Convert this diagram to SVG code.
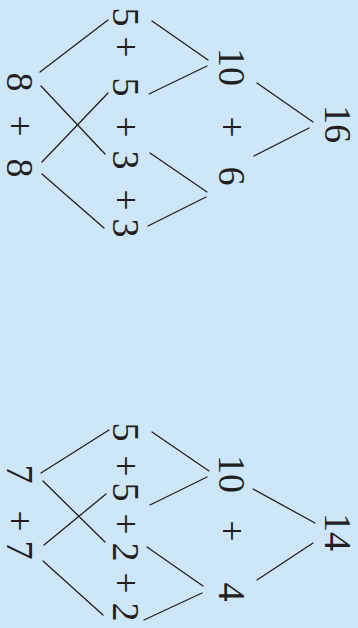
<svg xmlns="http://www.w3.org/2000/svg" width="358" height="628" viewBox="0 0 358 628">
<style>
.t{font-family:"Liberation Serif","Times New Roman",serif;font-size:38px;fill:#231f20;text-anchor:middle}
.c line{stroke:#231f20;stroke-width:1.3;stroke-linecap:round}
</style>
<rect width="358" height="628" fill="#cde7f8"/>
<g id="connectors" class="c">
<line x1="40" y1="72" x2="108" y2="20"/>
<line x1="41" y1="86" x2="105" y2="154"/>
<line x1="42" y1="162" x2="108" y2="93"/>
<line x1="42" y1="174" x2="104" y2="228"/>
<line x1="152" y1="21" x2="208" y2="60"/>
<line x1="149" y1="94" x2="207" y2="66"/>
<line x1="150" y1="153" x2="207" y2="192"/>
<line x1="148" y1="226" x2="206" y2="197"/>
<line x1="257" y1="83" x2="313" y2="122"/>
<line x1="254" y1="156" x2="309" y2="128"/>
<line x1="41" y1="473" x2="109" y2="430"/>
<line x1="43" y1="481" x2="105" y2="542"/>
<line x1="44" y1="545" x2="106" y2="494"/>
<line x1="43" y1="561" x2="103" y2="615"/>
<line x1="152" y1="432" x2="209" y2="471"/>
<line x1="150" y1="505" x2="207" y2="477"/>
<line x1="147" y1="547" x2="203" y2="586"/>
<line x1="144" y1="620" x2="202" y2="593"/>
<line x1="253" y1="489" x2="315" y2="523"/>
<line x1="257" y1="580" x2="313" y2="543"/>
</g>
<g id="top-8a"><text class="t" transform="translate(6.5,82) rotate(90)">8</text></g>
<g id="top-plus1"><text class="t" transform="translate(6.5,126) rotate(90)">+</text></g>
<g id="top-8b"><text class="t" transform="translate(6.5,168) rotate(90)">8</text></g>
<g id="top-5a"><text class="t" transform="translate(113,17) rotate(90)">5</text></g>
<g id="top-plus2"><text class="t" transform="translate(113,47) rotate(90)">+</text></g>
<g id="top-5b"><text class="t" transform="translate(113,87) rotate(90)">5</text></g>
<g id="top-plus3"><text class="t" transform="translate(113,127) rotate(90)">+</text></g>
<g id="top-3a"><text class="t" transform="translate(113,160) rotate(90)">3</text></g>
<g id="top-plus4"><text class="t" transform="translate(113,200) rotate(90)">+</text></g>
<g id="top-3b"><text class="t" transform="translate(113,228) rotate(90)">3</text></g>
<g id="top-10"><text class="t" transform="translate(219,67) rotate(90)">10</text></g>
<g id="top-plus5"><text class="t" transform="translate(219,127) rotate(90)">+</text></g>
<g id="top-6"><text class="t" transform="translate(219,176) rotate(90)">6</text></g>
<g id="top-16"><text class="t" transform="translate(325,124) rotate(90)">16</text></g>
<g id="bot-7a"><text class="t" transform="translate(6.5,474) rotate(90)">7</text></g>
<g id="bot-plus1"><text class="t" transform="translate(6.5,521) rotate(90)">+</text></g>
<g id="bot-7b"><text class="t" transform="translate(6.5,550) rotate(90)">7</text></g>
<g id="bot-5a"><text class="t" transform="translate(113,432) rotate(90)">5</text></g>
<g id="bot-plus2"><text class="t" transform="translate(113,466) rotate(90)">+</text></g>
<g id="bot-5b"><text class="t" transform="translate(113,492) rotate(90)">5</text></g>
<g id="bot-plus3"><text class="t" transform="translate(113,524) rotate(90)">+</text></g>
<g id="bot-2a"><text class="t" transform="translate(113,552) rotate(90)">2</text></g>
<g id="bot-plus4"><text class="t" transform="translate(113,583) rotate(90)">+</text></g>
<g id="bot-2b"><text class="t" transform="translate(113,612) rotate(90)">2</text></g>
<g id="bot-10"><text class="t" transform="translate(219,474) rotate(90)">10</text></g>
<g id="bot-plus5"><text class="t" transform="translate(219,531) rotate(90)">+</text></g>
<g id="bot-4"><text class="t" transform="translate(219,592) rotate(90)">4</text></g>
<g id="bot-14"><text class="t" transform="translate(325,532) rotate(90)">14</text></g>
</svg>
